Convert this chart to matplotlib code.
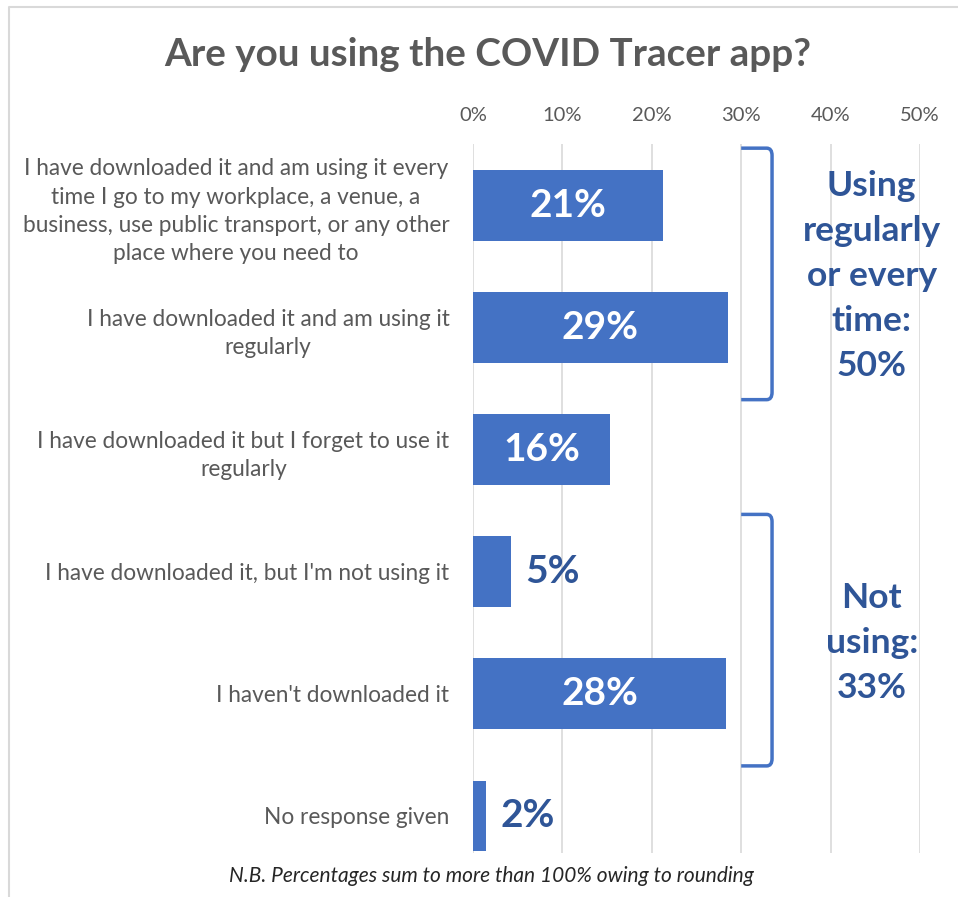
import matplotlib
matplotlib.use("Agg")
import matplotlib.pyplot as plt
from matplotlib.path import Path
from matplotlib.patches import PathPatch
from matplotlib.lines import Line2D

# ---- data ----
categories = [
    "I have downloaded it and am using it every\ntime I go to my workplace, a venue, a\nbusiness, use public transport, or any other\nplace where you need to",
    "I have downloaded it and am using it\nregularly",
    "I have downloaded it but I forget to use it\nregularly",
    "I have downloaded it, but I'm not using it",
    "I haven't downloaded it",
    "No response given",
]
values = [21.3, 28.5, 15.3, 4.3, 28.3, 1.5]
value_labels = ["21%", "29%", "16%", "5%", "28%", "2%"]
x_ticks = [0, 10, 20, 30, 40, 50]
x_tick_labels = ["0%", "10%", "20%", "30%", "40%", "50%"]
group_ranges = [(0, 1), (3, 4)]
group_labels = ["Using\nregularly\nor every\ntime:\n50%", "Not\nusing:\n33%"]
title = "Are you using the COVID Tracer app?"
footnote = "N.B. Percentages sum to more than 100% owing to rounding"

BAR = "#4472C4"
DARK = "#2F5597"
GRAY = "#595959"
FONT = "Lato"

W, H = 958, 897
fig = plt.figure(figsize=(W / 100, H / 100), dpi=100)

def fx(px):
    return px / W

def fy(py):
    return 1 - py / H

# chart border (top and left only visible in the reference)
fig.lines.append(Line2D([fx(9), fx(9), 1], [0, fy(7), fy(7)],
                        transform=fig.transFigure, color="#D9D9D9",
                        linewidth=1.5))

ax = fig.add_axes([fx(473), fy(877), fx(920 - 473), (877 - 144.5) / H])
ax.set_xlim(0, 50)
ax.set_ylim(5.5, -0.5)

ypos = list(range(len(categories)))
ax.vlines(x_ticks, -0.5, 5.3, colors="#D9D9D9", linewidth=1.2, zorder=0)
ax.barh(ypos, values, height=0.58, color=BAR, zorder=2)

for y, v, lab in zip(ypos, values, value_labels):
    if v > 10:
        ax.text(v / 2, y, lab, ha="center", va="center", color="white",
                fontsize=28, fontweight="bold", family=FONT, zorder=3)
    else:
        ax.text(v + 1.6, y, lab, ha="left", va="center", color=DARK,
                fontsize=28, fontweight="bold", family=FONT, zorder=3)

ax.xaxis.tick_top()
ax.set_xticks(x_ticks)
ax.set_xticklabels(x_tick_labels, fontsize=14.5, color=GRAY, family=FONT)
ax.tick_params(axis="x", length=0, pad=15)
ax.set_yticks(ypos)
ax.set_yticklabels(categories, fontsize=16.3, color=GRAY, family=FONT,
                   multialignment="center", linespacing=1.42)
ax.tick_params(axis="y", length=0, pad=17)
for s in ax.spines.values():
    s.set_visible(False)

# brackets
bx0, bx1, r = 30.0, 33.45, 0.6
for (g0, g1), glab in zip(group_ranges, group_labels):
    top = g0 - 0.47
    bot = g1 + 0.59
    verts = [(bx0, top), (bx1 - r, top), (bx1, top), (bx1, top + 0.06),
             (bx1, bot - 0.06), (bx1, bot), (bx1 - r, bot), (bx0, bot)]
    codes = [Path.MOVETO, Path.LINETO, Path.CURVE3, Path.CURVE3,
             Path.LINETO, Path.CURVE3, Path.CURVE3, Path.LINETO]
    ax.add_patch(PathPatch(Path(verts, codes), fill=False, edgecolor=BAR,
                           linewidth=2.5, zorder=3, capstyle="butt"))
    ax.text(44.6, (top + bot) / 2 + 0.02, glab, ha="center", va="center",
            color=DARK, fontsize=25.5, fontweight="bold", family=FONT,
            linespacing=1.5, zorder=3)

fig.text(fx(488), fy(55), title, ha="center", va="center", fontsize=27.8,
         fontweight="bold", color=GRAY, family=FONT)
fig.text(fx(491), fy(876), footnote, ha="center", va="center", fontsize=15,
         style="italic", color="#262626", family=FONT)

fig.savefig("out.png", dpi=100)
